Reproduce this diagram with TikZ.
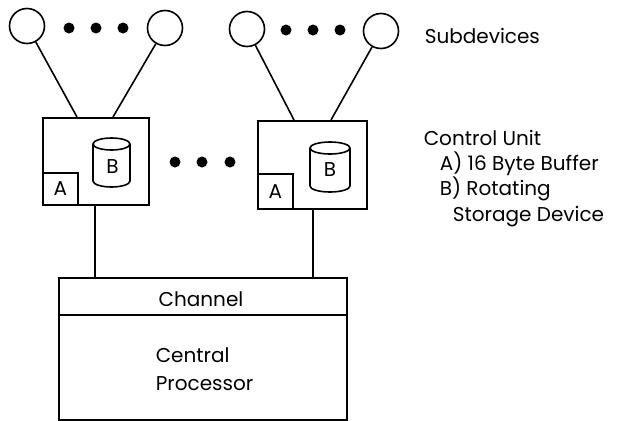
\documentclass[tikz,border=0pt]{standalone}
\usepackage{fontspec}
\setmainfont{Poppins}
\begin{document}
\begin{tikzpicture}[x=1pt,y=-1pt,line width=1.6pt,
  sub/.style={circle,draw,minimum size=35pt,inner sep=0pt},
  bigdot/.style={circle,fill,minimum size=11pt,inner sep=0pt},
  lbl/.style={font=\fontsize{20}{24}\selectfont,inner sep=0pt},
  boxA/.style={draw,inner sep=0pt,font=\fontsize{20}{24}\selectfont}]
\useasboundingbox (0,0) rectangle (625,421);
% subdevices
\node[sub] (s1) at (27,26) {};
\node[sub] (s2) at (165,28) {};
\node[sub] (s3) at (247,29) {};
\node[sub] (s4) at (381,31) {};
\foreach \x/\n in {69/a,96/b,123/c}{\node[bigdot] (d1\n) at (\x,28) {};}
\foreach \x/\n in {286/a,313/b,340/c}{\node[bigdot] (d2\n) at (\x,30) {};}
\node[lbl,anchor=base west] (subl) at (424,43) {Subdevices};
% control units
\node[draw,inner sep=0pt,minimum width=106pt,minimum height=87pt,anchor=north west] (cu1) at (42,117) {};
\node[draw,inner sep=0pt,minimum width=109pt,minimum height=88pt,anchor=north west] (cu2) at (257,120) {};
\node[boxA,minimum width=35pt,minimum height=32pt,anchor=south west] (a1) at (cu1.south west) {A};
\node[boxA,minimum width=35pt,minimum height=35pt,anchor=south west] (a2) at (cu2.south west) {A};
% cylinders
\draw (111.5,144) ellipse [x radius=18.5pt,y radius=6pt];
\draw (93,144) -- (93,181) arc[start angle=180,end angle=360,x radius=18.5pt,y radius=6pt] -- (130,144);
\draw (330,148) ellipse [x radius=20pt,y radius=6pt];
\draw (310,148) -- (310,186) arc[start angle=180,end angle=360,x radius=20pt,y radius=6pt] -- (350,148);
\node[lbl] (b1) at (112.5,167) {B};
\node[lbl] (b2) at (330,170) {B};
\foreach \x/\n in {175/a,202/b,230/c}{\node[bigdot] (m\n) at (\x,162) {};}
% connectors subdevices -> control units
\coordinate (t1) at (77,117);
\coordinate (t2) at (113,117);
\coordinate (t3) at (294,120);
\coordinate (t4) at (331,120);
\draw (s1) -- (t1);
\draw (s2) -- (t2);
\draw (s3) -- (t3);
\draw (s4) -- (t4);
% central processor
\node[draw,inner sep=0pt,minimum width=288pt,minimum height=142pt,anchor=north west] (cpu) at (58,277) {};
\draw (58,315) -- (346,315);
\node[lbl,anchor=base] (chan) at (201,306) {Channel};
\node[lbl,anchor=base west] (cen) at (155,362) {Central};
\node[lbl,anchor=base west] (proc) at (155,390) {Processor};
\coordinate (u1) at (95,277);
\coordinate (u2) at (313,277);
\draw (cu1.south west) ++(53,0) coordinate (v1) -- (u1);
\draw (cu2.south west) ++(56,0) coordinate (v2) -- (u2);
% control unit legend
\node[lbl,anchor=base west] (cul) at (423,145) {Control Unit};
\node[lbl,anchor=base west] (cua) at (439,170) {A) 16 Byte Buffer};
\node[lbl,anchor=base west] (cub) at (439,195) {B) Rotating};
\node[lbl,anchor=base west] (cuc) at (452,221) {Storage Device};
\end{tikzpicture}
\end{document}
